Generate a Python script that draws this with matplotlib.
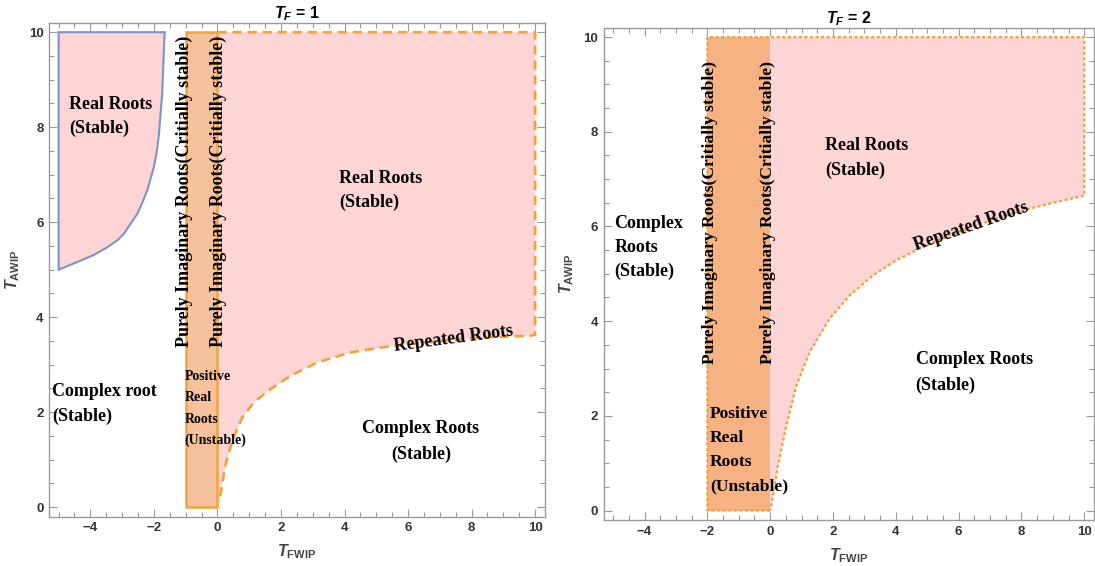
import numpy as np
import matplotlib.pyplot as plt
from matplotlib.ticker import MultipleLocator

plt.rcParams['mathtext.fontset'] = 'custom'
plt.rcParams['mathtext.it'] = 'Liberation Sans:italic:bold'
plt.rcParams['mathtext.rm'] = 'Liberation Sans:bold'
plt.rcParams['mathtext.bf'] = 'Liberation Sans:bold'

# ---- T_F = 1 ----
# blue bounded "real roots" pocket (curve part, bottom -> top)
blue_x = [-5.0, -4.31, -3.89, -3.47, -3.15, -2.94, -2.52, -2.37, -2.21, -2.0,
          -1.91, -1.84, -1.74, -1.69, -1.66]
blue_y = [5.0, 5.19, 5.31, 5.47, 5.62, 5.76, 6.18, 6.40, 6.67, 7.16,
          7.48, 7.86, 8.70, 9.55, 10.0]
# repeated roots boundary
rep1_x = [0.05, 0.10, 0.26, 0.47, 0.78, 1.15, 1.68, 2.31, 3.15, 4.20, 5.24, 6.61, 8.19, 9.86, 10.0]
rep1_y = [0.10, 0.28, 0.91, 1.40, 1.89, 2.21, 2.49, 2.77, 3.05, 3.26, 3.37, 3.47, 3.57, 3.61, 3.63]
strip1 = [-1, 0]

# ---- T_F = 2 ----
rep2_x = [0.04, 0.25, 0.52, 0.84, 1.26, 1.90, 2.54, 3.28, 4.02, 4.66, 5.72, 7.21, 8.27, 9.33, 10.0]
rep2_y = [0.12, 0.96, 1.81, 2.65, 3.35, 4.06, 4.55, 4.97, 5.29, 5.50, 5.82, 6.17, 6.38, 6.55, 6.65]
strip2 = [-2, 0]

x_max = 10
y_top = 10

PINK = '#fdd5d5'
ORANGE = '#f4a03c'
SERIF = 'Liberation Serif'

vert_text = 'Purely Imaginary Roots(Critially stable)'


def style_axes(ax, title):
    ax.set_xlim(-5.3, 10.3)
    ax.set_ylim(-0.2, 10.2)
    ax.xaxis.set_major_locator(MultipleLocator(2))
    ax.xaxis.set_minor_locator(MultipleLocator(0.5))
    ax.yaxis.set_major_locator(MultipleLocator(2))
    ax.yaxis.set_minor_locator(MultipleLocator(0.5))
    ax.tick_params(which='both', direction='in', top=True, right=True,
                   color='#9a9a9a', width=0.8, pad=4)
    ax.tick_params(which='major', length=6)
    ax.tick_params(which='minor', length=3.5)
    for lab in ax.get_xticklabels() + ax.get_yticklabels():
        lab.set_family('Liberation Sans')
        lab.set_fontweight('bold')
        lab.set_fontsize(9.5)
        lab.set_color('#333333')
    for sp in ax.spines.values():
        sp.set_color('#9a9a9a')
        sp.set_linewidth(1.0)
    ax.set_title(title, fontsize=11.5, fontweight='bold',
                 family='Liberation Sans', pad=3)
    ax.set_xlabel(r'$T_{\mathrm{FWIP}}$', fontsize=11.5, color='#444444', labelpad=6)
    ax.set_ylabel(r'$T_{\mathrm{AWIP}}$', fontsize=11.5, color='#444444', labelpad=5)


def lines_label(ax, x, y0, lines, dy, size=13, ha='left'):
    for i, s in enumerate(lines):
        ax.text(x, y0 - i * dy, s, family=SERIF, fontweight='bold',
                fontsize=size, ha=ha, va='center', zorder=5)


fig = plt.figure(figsize=(10.95, 5.66), dpi=100)

# ------------------ left panel ------------------
ax1 = fig.add_axes([0.0448, 0.0871, 0.4526, 0.8728])

# pink region above the repeated-roots curve
p1x = [0, x_max] + rep1_x[::-1] + [0]
p1y = [y_top, y_top] + rep1_y[::-1] + [rep1_y[0]]
ax1.fill(p1x, p1y, color=PINK, lw=0, zorder=1)
ax1.plot([0, x_max] + rep1_x[::-1], [y_top, y_top] + rep1_y[::-1],
         color=ORANGE, lw=1.9, ls=(0, (3.5, 2.2)), zorder=3)

# orange strip
ax1.fill([strip1[0], strip1[1], strip1[1], strip1[0]], [0, 0, y_top, y_top],
         fc='#f5c29d', ec='#f0a43a', lw=1.8, zorder=2)

# blue pocket
ax1.fill(blue_x + [blue_x[0]], blue_y + [blue_y[-1]],
         fc=PINK, ec='#7d92c6', lw=1.5, zorder=2)

style_axes(ax1, r'$T_F$ = 1')

lines_label(ax1, -4.67, 8.48, ['Real Roots', '(Stable)'], 0.51)
lines_label(ax1, 3.82, 6.91, ['Real Roots', '(Stable)'], 0.50)
lines_label(ax1, -1.04, 2.75, ['Positive', 'Real', 'Roots', '(Unstable)'], 0.45, size=10)
lines_label(ax1, -5.2, 2.44, ['Complex root', '(Stable)'], 0.53)
lines_label(ax1, 6.40, 1.65, ['Complex Roots', '(Stable)'], 0.54, ha='center')
for xv in (-1.04, 0.03):
    ax1.text(xv, 6.65, vert_text, rotation=90, family=SERIF, fontweight='bold',
             fontsize=13, ha='center', va='center', zorder=5)
ax1.text(7.43, 3.55, 'Repeated Roots', rotation=7.5, family=SERIF,
         fontweight='bold', fontsize=13, ha='center', va='center', zorder=5)

# ------------------ right panel ------------------
ax2 = fig.add_axes([0.5513, 0.0813, 0.4475, 0.8698])

p2x = [0, x_max] + rep2_x[::-1] + [0]
p2y = [y_top, y_top] + rep2_y[::-1] + [0]
ax2.fill(p2x, p2y, color=PINK, lw=0, zorder=1)
ax2.fill([strip2[0], strip2[1], strip2[1], strip2[0]], [0, 0, y_top, y_top],
         color='#f7b284', lw=0, zorder=2)
o2x = [strip2[1], strip2[0], strip2[0], x_max] + rep2_x[::-1] + [strip2[1]]
o2y = [0, 0, y_top, y_top] + rep2_y[::-1] + [0]
ax2.plot(o2x, o2y, color=ORANGE, lw=1.6, ls=(0, (1.4, 1.1)), zorder=3)

style_axes(ax2, r'$T_F$ = 2')

lines_label(ax2, -4.96, 6.06, ['Complex', 'Roots', '(Stable)'], 0.505)
lines_label(ax2, 1.76, 7.72, ['Real Roots', '(Stable)'], 0.53)
lines_label(ax2, 4.63, 3.18, ['Complex Roots', '(Stable)'], 0.53)
lines_label(ax2, -1.91, 2.03, ['Positive', 'Real', 'Roots', '(Unstable)'], 0.507, size=12.6)
for xv in (-1.93, -0.08):
    ax2.text(xv, 6.29, vert_text, rotation=90, family=SERIF, fontweight='bold',
             fontsize=12.6, ha='center', va='center', zorder=5)
ax2.text(6.4, 6.0, 'Repeated Roots', rotation=19, family=SERIF,
         fontweight='bold', fontsize=13, ha='center', va='center', zorder=5)

fig.savefig('out.png', dpi=100)
